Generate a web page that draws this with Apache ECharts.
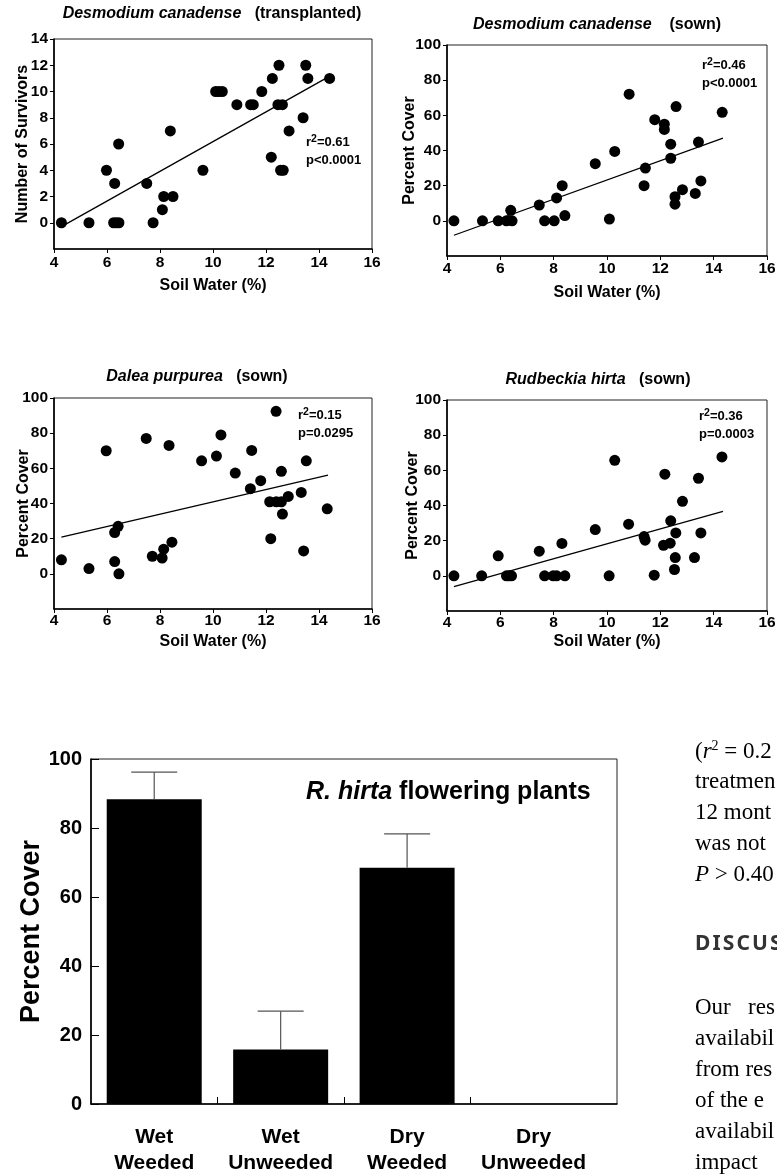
<!DOCTYPE html>
<html><head><meta charset="utf-8">
<script src="https://cdn.jsdelivr.net/npm/echarts@6/dist/echarts.min.js"></script>
<style>html,body{margin:0;padding:0;background:#fff;}#c{width:777px;height:1174px;}</style>
</head><body><div id="c"></div>
<script>
// ---------- data ----------
const xTicks = [4, 6, 8, 10, 12, 14, 16];
const survivorTicks = [0, 2, 4, 6, 8, 10, 12, 14];
const coverTicks = [0, 20, 40, 60, 80, 100];

// Desmodium canadense (transplanted)
const soilWater1 = [4.28,5.32,6.25,6.35,6.45,5.98,6.29,6.44,7.50,7.74,8.09,8.14,8.49,8.39,9.62,10.10,10.22,10.35,10.90,11.42,11.52,11.84,12.24,12.49,12.45,12.62,12.20,12.55,12.65,12.87,13.40,13.50,13.58,14.40];
const survivors1 = [0,0,0,0,0,4,3,6,3,0,1,2,2,7,4,10,10,10,9,9,9,10,11,12,9,9,5,4,4,7,8,12,11,11];
const fit1 = [[4.28,-0.3],[14.34,11.1]];

// Desmodium canadense (sown)
const soilWater2 = [4.26,5.33,5.92,6.23,6.44,6.39,7.46,7.66,8.02,8.11,8.32,8.42,9.56,10.09,10.29,10.83,11.39,11.44,11.79,12.15,12.15,12.39,12.39,12.59,12.55,12.55,12.83,13.31,13.43,13.52,14.32];
const cover2 = [0,0,0,0,0,6,9,0,0,13,20,3,32.5,1,39.5,72,20,30,57.5,55,52,43.6,35.6,65,13.7,9.5,17.7,15.6,44.8,22.7,61.7];
const fit2 = [[4.26,-8.2],[14.35,47]];

// Dalea purpurea (sown)
const soilWater3 = [4.28,5.32,5.97,6.29,6.42,6.29,6.45,7.48,7.71,8.08,8.14,8.34,8.45,9.57,10.13,10.30,10.84,11.41,11.46,11.80,12.18,12.14,12.39,12.58,12.38,12.58,12.62,12.84,13.33,13.42,13.52,14.31];
const cover3 = [8,3,70,23.5,27,7,0,77,10,9,14,73,18,64.3,67,79,57.3,48.4,70.2,53,20,41,41,41,92.4,58.3,34,44,46.3,13,64.3,37];
const fit3 = [[4.28,20.9],[14.34,56.2]];

// Rudbeckia hirta (sown)
const soilWater4 = [4.26,5.30,5.92,6.23,6.32,6.42,7.46,7.66,7.98,8.11,8.31,8.42,9.56,10.08,10.29,10.81,11.39,11.43,11.77,12.17,12.12,12.39,12.37,12.58,12.56,12.53,12.83,13.28,13.43,13.52,14.31];
const cover4 = [0,0,11.4,0,0,0,14,0,0,0,18.4,0,26.3,0,65.7,29.4,22.3,20.3,0.4,57.8,17.4,31.3,18.6,24.4,10.4,3.6,42.4,10.4,55.5,24.4,67.6];
const fit4 = [[4.26,-6.1],[14.35,36.6]];

// R. hirta flowering plants
const treatments = ['Wet\nWeeded', 'Wet\nUnweeded', 'Dry\nWeeded', 'Dry\nUnweeded'];
const flowerCover = [88.3, 15.8, 68.5, 0];
const flowerErrTop = [96.2, 26.9, 78.3, 0];

// ---------- chart ----------
const SANS = 'Liberation Sans, Arial, sans-serif';
const SERIF = 'Liberation Serif, Times New Roman, serif';
const chart = echarts.init(document.getElementById('c'));

const grids = [
  {left: 54, top: 39, width: 318, height: 210},
  {left: 447, top: 45, width: 320, height: 211},
  {left: 54, top: 398, width: 318, height: 211},
  {left: 447, top: 400, width: 320, height: 211},
  {left: 91, top: 759, width: 526, height: 345}
].map(g => Object.assign({show: true, borderColor: '#222', borderWidth: 1, containLabel: false, outerBoundsMode: 'none'}, g));

const boldLabel = (size) => ({fontFamily: SANS, fontWeight: 'bold', fontSize: size, color: '#000'});

function sx(gi, margin, nameGap) {
  return {
    gridIndex: gi, type: 'value', min: 4, max: 16, interval: 2,
    axisLine: {show: true, onZero: false, lineStyle: {color: '#000', width: 1.6}},
    axisTick: {show: true, length: 4, lineStyle: {color: '#000', width: 1}},
    axisLabel: Object.assign({margin: margin, customValues: xTicks}, boldLabel(15.5)),
    splitLine: {show: false},
    name: 'Soil Water (%)', nameLocation: 'middle', nameGap: nameGap, nameMoveOverlap: false,
    nameTextStyle: boldLabel(16)
  };
}
function sy(gi, min, max, step, ticks, name, nameGap) {
  return {
    gridIndex: gi, type: 'value', min: min, max: max, interval: step,
    axisLine: {show: true, onZero: false, lineStyle: {color: '#000', width: 1.6}},
    axisTick: {show: true, length: 4, customValues: ticks, lineStyle: {color: '#000', width: 1}},
    axisLabel: Object.assign({margin: 6, customValues: ticks}, boldLabel(15.5)),
    splitLine: {show: false},
    name: name, nameLocation: 'middle', nameGap: nameGap, nameRotate: 90, nameMoveOverlap: false,
    nameTextStyle: boldLabel(16)
  };
}

const xAxes = [sx(0, 6, 29), sx(1, 5, 29), sx(2, 4, 25), sx(3, 4, 23)];
const yAxes = [
  sy(0, -2, 14, 2, survivorTicks, 'Number of Survivors', 23),
  sy(1, -20, 100, 20, coverTicks, 'Percent Cover', 29),
  sy(2, -20, 100, 20, coverTicks, 'Percent Cover', 22),
  sy(3, -20, 100, 20, coverTicks, 'Percent Cover', 26)
];
xAxes.push({
  gridIndex: 4, type: 'value', min: -0.5, max: 3.66,
  axisLine: {show: true, onZero: false, lineStyle: {color: '#000', width: 1.6}},
  axisTick: {show: true, inside: true, length: 7, customValues: [0.5, 1.5, 2.5], lineStyle: {color: '#000', width: 1}},
  axisLabel: Object.assign({margin: 20, lineHeight: 26, customValues: [0, 1, 2, 3],
    formatter: v => treatments[Math.round(v)]}, boldLabel(21)),
  splitLine: {show: false}
});
yAxes.push({
  gridIndex: 4, type: 'value', min: 0, max: 100, interval: 20,
  axisLine: {show: true, onZero: false, lineStyle: {color: '#000', width: 1.6}},
  axisTick: {show: true, inside: true, length: 8, lineStyle: {color: '#000', width: 1}},
  axisLabel: Object.assign({margin: 9}, boldLabel(20)),
  splitLine: {show: false},
  name: 'Percent Cover', nameLocation: 'middle', nameGap: 46, nameRotate: 90, nameMoveOverlap: false,
  nameTextStyle: boldLabel(27)
});

const pairs = (xs, ys) => xs.map((v, i) => [v, ys[i]]);
function scatter(gi, xs, ys) {
  return {type: 'scatter', xAxisIndex: gi, yAxisIndex: gi, data: pairs(xs, ys),
    symbol: 'circle', symbolSize: 11, itemStyle: {color: '#000', opacity: 1}, z: 3, silent: true};
}
function fitLine(gi, pts) {
  return {type: 'line', xAxisIndex: gi, yAxisIndex: gi, data: pts, showSymbol: false,
    lineStyle: {color: '#000', width: 1.3}, z: 2, silent: true};
}

const titleRich = {
  i: {fontFamily: SANS, fontWeight: 'bold', fontStyle: 'italic', fontSize: 16, color: '#000'},
  n: {fontFamily: SANS, fontWeight: 'bold', fontSize: 16, color: '#000'}
};
function panelTitle(text, cx, cy) {
  return {text: text, left: cx, top: cy - 9, textAlign: 'center', padding: 0,
    textStyle: {rich: titleRich, fontSize: 16}};
}

const statRich = {
  a: {fontFamily: SANS, fontWeight: 'bold', fontSize: 13, color: '#000', lineHeight: 17},
  s: {fontFamily: SANS, fontWeight: 'bold', fontSize: 10.5, color: '#000', lineHeight: 10, verticalAlign: 'top'}
};
function stat(r2, p, x, y) {
  return [
    {type: 'text', left: x, top: y - 9, style: {text: '{a|r}{s|2}{a|=' + r2 + '}', rich: statRich}},
    {type: 'text', left: x, top: y + 20 - 9, style: {text: '{a|' + p + '}', rich: statRich}}
  ];
}

const bodyRich = {
  n: {fontFamily: SERIF, fontSize: 23, color: '#222', lineHeight: 26},
  i: {fontFamily: SERIF, fontSize: 23, fontStyle: 'italic', color: '#222', lineHeight: 26},
  s: {fontFamily: SERIF, fontSize: 14, color: '#222', lineHeight: 14, verticalAlign: 'top'}
};
const bodyLines = [
  ['{n|(}{i|r}{s|2}{n| = 0.2}', 752], ['{n|treatmen}', 783], ['{n|12 mont}', 814],
  ['{n|was not}', 845], ['{i|P}{n| > 0.40}', 876],
  ['{n|Our   res}', 1009], ['{n|availabil}', 1040], ['{n|from res}', 1071],
  ['{n|of the e}', 1102], ['{n|availabil}', 1133], ['{n|impact}', 1164]
];
const graphics = [];
bodyLines.forEach(([t, y]) => graphics.push({type: 'text', left: 695, top: y - 13, style: {text: t, rich: bodyRich}}));
graphics.push({type: 'text', left: 695, top: 948 - 14, style: {text: 'D\u200AI\u200AS\u200AC\u200AU\u200AS\u200AS\u200AI\u200AO\u200AN',
  fontFamily: 'Noto Sans, DejaVu Sans, sans-serif', fontWeight: 'bold', fontSize: 21, fill: '#333'}});
graphics.push(...stat('0.61', 'p<0.0001', 306, 143));
graphics.push(...stat('0.46', 'p<0.0001', 702, 66));
graphics.push(...stat('0.15', 'p=0.0295', 298, 416));
graphics.push(...stat('0.36', 'p=0.0003', 699, 417));

const errRender = function (params, api) {
  const x = api.value(0), y = api.value(1), top = api.value(2);
  if (!(top > y)) return null;
  const p0 = api.coord([x, y]);
  const p1 = api.coord([x, top]);
  const half = 23;
  const st = {stroke: '#555', lineWidth: 1.2};
  return {type: 'group', children: [
    {type: 'line', shape: {x1: p0[0], y1: p0[1], x2: p1[0], y2: p1[1]}, style: st},
    {type: 'line', shape: {x1: p1[0] - half, y1: p1[1], x2: p1[0] + half, y2: p1[1]}, style: st}
  ]};
};

chart.setOption({
  backgroundColor: '#fff',
  animation: false,
  title: [
    panelTitle('{i|Desmodium canadense}{n|   (transplanted)}', 212, 15),
    panelTitle('{i|Desmodium canadense}{n|    (sown)}', 597, 26),
    panelTitle('{i|Dalea purpurea}{n|   (sown)}', 197, 378),
    panelTitle('{i|Rudbeckia hirta}{n|   (sown)}', 598, 381),
    {text: '{i|R. hirta}{n| flowering plants}', left: 306, top: 780, padding: 0,
      textStyle: {rich: {
        i: {fontFamily: SANS, fontWeight: 'bold', fontStyle: 'italic', fontSize: 25, color: '#000'},
        n: {fontFamily: SANS, fontWeight: 'bold', fontSize: 25, color: '#000'}}}}
  ],
  grid: grids,
  xAxis: xAxes,
  yAxis: yAxes,
  series: [
    scatter(0, soilWater1, survivors1), fitLine(0, fit1),
    scatter(1, soilWater2, cover2), fitLine(1, fit2),
    scatter(2, soilWater3, cover3), fitLine(2, fit3),
    scatter(3, soilWater4, cover4), fitLine(3, fit4),
    {type: 'bar', xAxisIndex: 4, yAxisIndex: 4, data: flowerCover.map((v, i) => [i, v]),
      barWidth: 95, itemStyle: {color: '#000'}, silent: true},
    {type: 'custom', xAxisIndex: 4, yAxisIndex: 4, renderItem: errRender,
      data: flowerCover.map((v, i) => [i, v, flowerErrTop[i]]), encode: {x: 0, y: [1, 2]}, z: 3, silent: true}
  ],
  graphic: graphics
});
</script></body></html>
